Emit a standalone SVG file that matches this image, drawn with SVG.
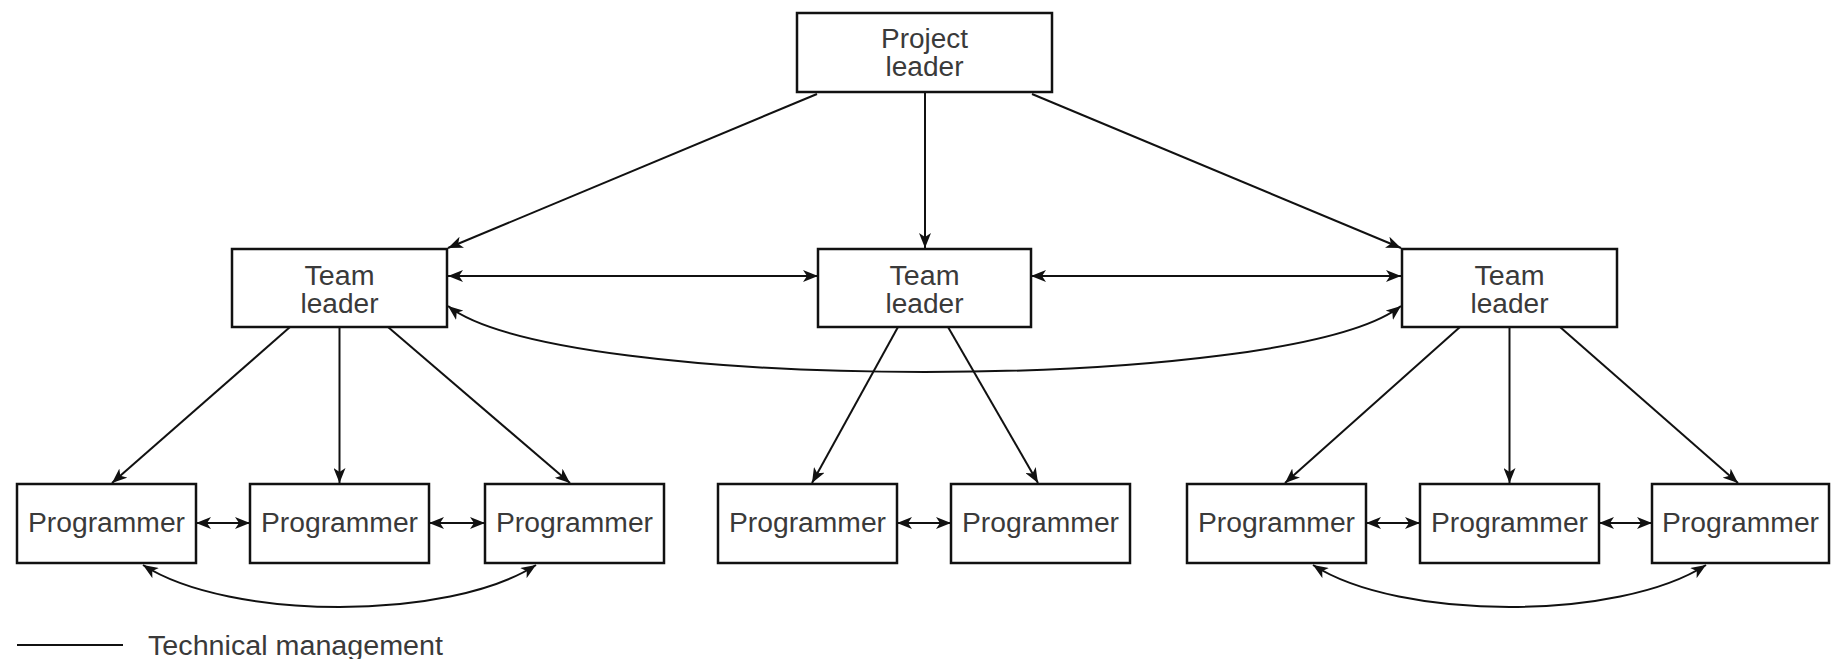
<svg xmlns="http://www.w3.org/2000/svg" width="1831" height="659" viewBox="0 0 1831 659">
<style>
  .box{fill:#fff;stroke:#111;stroke-width:2.5}
  .lbl{font-family:"Liberation Sans",Arial,sans-serif;font-size:27px;fill:#3a3a3a;text-anchor:middle;}
  .con{fill:none;stroke:#111;stroke-width:2}
  .a{marker-end:url(#ah)}
  .aa{marker-start:url(#ah);marker-end:url(#ah)}
</style>
<defs>
  <marker id="ah" viewBox="0 0 15 12" refX="15" refY="6" markerWidth="15" markerHeight="12" orient="auto-start-reverse" markerUnits="userSpaceOnUse">
    <path d="M0,0 L15,6 L0,12 L4,6 z" fill="#111"/>
  </marker>
</defs>
<rect width="1831" height="659" fill="#fff"/>

<g id="connectors">
  <line class="con a" x1="817" y1="94" x2="448" y2="248"/>
  <line class="con a" x1="925" y1="92" x2="925" y2="248"/>
  <line class="con a" x1="1032" y1="94" x2="1401" y2="248"/>
  <line class="con aa" x1="448" y1="276" x2="818" y2="276"/>
  <line class="con aa" x1="1031" y1="276" x2="1401" y2="276"/>
  <path class="con aa" d="M448,306 C560,394 1289,394 1401,306"/>

  <line class="con a" x1="290" y1="327" x2="112" y2="483"/>
  <line class="con a" x1="339.5" y1="327" x2="339.5" y2="483"/>
  <line class="con a" x1="388" y1="327" x2="570" y2="483"/>

  <line class="con a" x1="898" y1="327" x2="812" y2="483"/>
  <line class="con a" x1="948" y1="327" x2="1038" y2="483"/>

  <line class="con a" x1="1460" y1="327" x2="1285" y2="483"/>
  <line class="con a" x1="1509.5" y1="327" x2="1509.5" y2="483"/>
  <line class="con a" x1="1560" y1="327" x2="1738" y2="483"/>

  <line class="con aa" x1="196" y1="523" x2="250" y2="523"/>
  <line class="con aa" x1="429" y1="523" x2="485" y2="523"/>
  <line class="con aa" x1="897" y1="523" x2="951" y2="523"/>
  <line class="con aa" x1="1366" y1="523" x2="1420" y2="523"/>
  <line class="con aa" x1="1599" y1="523" x2="1652" y2="523"/>

  <path class="con aa" d="M143,565 C230,621 449,621 536,565"/>
  <path class="con aa" d="M1313,565 C1400,621 1619,621 1706,565"/>
</g>

<g id="project-leader">
  <rect class="box" x="797" y="13" width="255" height="79"/>
  <text class="lbl" x="924.5" y="48" textLength="87" lengthAdjust="spacingAndGlyphs">Project</text>
  <text class="lbl" x="924.5" y="76" textLength="78" lengthAdjust="spacingAndGlyphs">leader</text>
</g>

<g id="team-leader-1">
  <rect class="box" x="232" y="249" width="215" height="78"/>
  <text class="lbl" x="339.5" y="285" textLength="70" lengthAdjust="spacingAndGlyphs">Team</text>
  <text class="lbl" x="339.5" y="313" textLength="78" lengthAdjust="spacingAndGlyphs">leader</text>
</g>
<g id="team-leader-2">
  <rect class="box" x="818" y="249" width="213" height="78"/>
  <text class="lbl" x="924.5" y="285" textLength="70" lengthAdjust="spacingAndGlyphs">Team</text>
  <text class="lbl" x="924.5" y="313" textLength="78" lengthAdjust="spacingAndGlyphs">leader</text>
</g>
<g id="team-leader-3">
  <rect class="box" x="1402" y="249" width="215" height="78"/>
  <text class="lbl" x="1509.5" y="285" textLength="70" lengthAdjust="spacingAndGlyphs">Team</text>
  <text class="lbl" x="1509.5" y="313" textLength="78" lengthAdjust="spacingAndGlyphs">leader</text>
</g>

<g id="programmer-1">
  <rect class="box" x="17" y="484" width="179" height="79"/>
  <text class="lbl" x="106.5" y="532" textLength="157" lengthAdjust="spacingAndGlyphs">Programmer</text>
</g>
<g id="programmer-2">
  <rect class="box" x="250" y="484" width="179" height="79"/>
  <text class="lbl" x="339.5" y="532" textLength="157" lengthAdjust="spacingAndGlyphs">Programmer</text>
</g>
<g id="programmer-3">
  <rect class="box" x="485" y="484" width="179" height="79"/>
  <text class="lbl" x="574.5" y="532" textLength="157" lengthAdjust="spacingAndGlyphs">Programmer</text>
</g>
<g id="programmer-4">
  <rect class="box" x="718" y="484" width="179" height="79"/>
  <text class="lbl" x="807.5" y="532" textLength="157" lengthAdjust="spacingAndGlyphs">Programmer</text>
</g>
<g id="programmer-5">
  <rect class="box" x="951" y="484" width="179" height="79"/>
  <text class="lbl" x="1040.5" y="532" textLength="157" lengthAdjust="spacingAndGlyphs">Programmer</text>
</g>
<g id="programmer-6">
  <rect class="box" x="1187" y="484" width="179" height="79"/>
  <text class="lbl" x="1276.5" y="532" textLength="157" lengthAdjust="spacingAndGlyphs">Programmer</text>
</g>
<g id="programmer-7">
  <rect class="box" x="1420" y="484" width="179" height="79"/>
  <text class="lbl" x="1509.5" y="532" textLength="157" lengthAdjust="spacingAndGlyphs">Programmer</text>
</g>
<g id="programmer-8">
  <rect class="box" x="1652" y="484" width="177" height="79"/>
  <text class="lbl" x="1740.5" y="532" textLength="157" lengthAdjust="spacingAndGlyphs">Programmer</text>
</g>

<g id="legend">
  <line x1="17" y1="645" x2="123" y2="645" stroke="#111" stroke-width="2"/>
  <text class="lbl" x="148" y="655" style="text-anchor:start" textLength="295" lengthAdjust="spacingAndGlyphs">Technical management</text>
</g>
</svg>
